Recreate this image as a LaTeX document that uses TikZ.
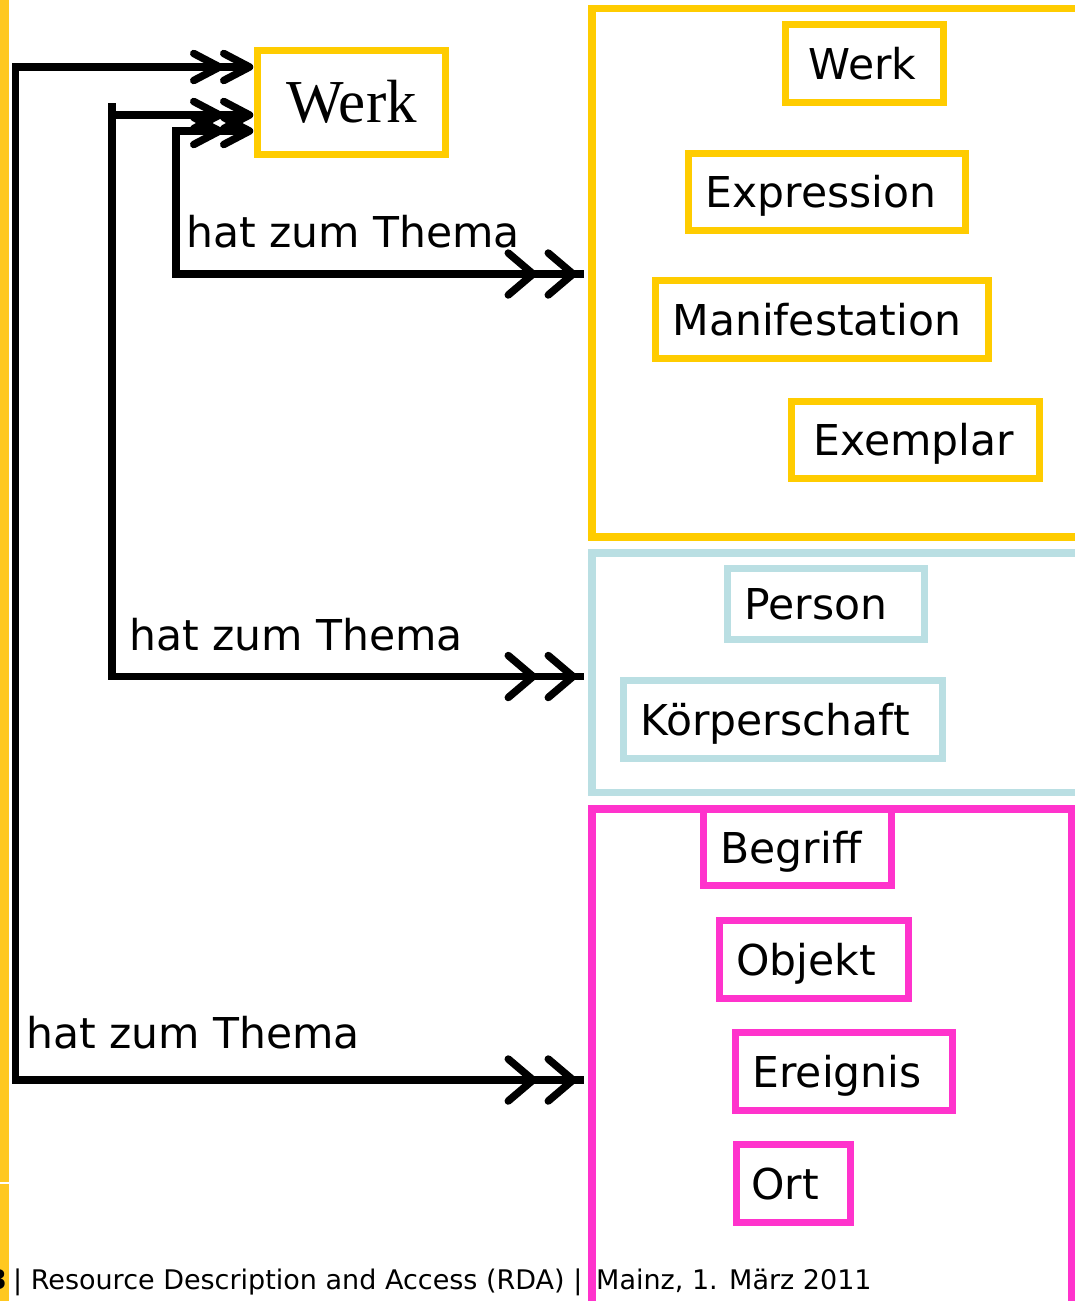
\documentclass[tikz,border=0pt]{standalone}
\usepackage{fontspec}
\setmainfont{DejaVu Sans}
\newfontfamily\werkserif{Liberation Serif}
\usetikzlibrary{arrows.meta}
\definecolor{ygold}{HTML}{FFCC00}
\definecolor{barcolor}{HTML}{FFC820}
\definecolor{lblue}{HTML}{BADFE3}
\definecolor{magen}{HTML}{FF33CC}
\pgfdeclarearrow{
  name = Chev,
  parameters = {\the\pgfarrowlength,\the\pgfarrowwidth},
  setup code = {
    \pgfarrowssettipend{0pt}
    \pgfarrowssetlineend{-4pt}
    \pgfarrowssetbackend{-\pgfarrowlength}
    \pgfarrowssavethe\pgfarrowlength
    \pgfarrowssavethe\pgfarrowwidth
  },
  drawing code = {
    \pgfsetlinewidth{7.5pt}
    \pgfsetroundcap
    \pgfsetroundjoin
    \pgfsetdash{}{0pt}
    \pgfpathmoveto{\pgfqpoint{-\pgfarrowlength}{.5\pgfarrowwidth}}
    \pgfpathlineto{\pgfqpoint{-3.75pt}{0pt}}
    \pgfpathlineto{\pgfqpoint{-\pgfarrowlength}{-.5\pgfarrowwidth}}
    \pgfusepathqstroke
  },
  defaults = {length = 28.5pt, width = 42pt}
}
\tikzset{
  sbarb/.tip={Chev[length=29.5pt,width=27pt,sep=0.5pt] Chev[length=29.5pt,width=27pt,sep=0.5pt]},
  bbarb/.tip={Chev[length=28.5pt,width=42pt,sep=11.5pt] Chev[length=28.5pt,width=42pt,sep=11.5pt]},
}
\begin{document}
\begin{tikzpicture}[x=1pt,y=-1pt,
  conn/.style={line width=7.5pt, draw=black},
  bigbox/.style={draw=#1, line width=7.5pt, anchor=north west, inner sep=0pt},
  ibox/.style={draw=#1, line width=7.5pt, anchor=north west, fill=white,
    font=\fontsize{42.5}{50}\selectfont, text height=31pt, text depth=0pt,
    align=left, inner ysep=0pt},
  dims/.style n args={4}{minimum width=#1pt, minimum height=#2pt, inner xsep=#3pt, text width=#4pt},
  lbl/.style={anchor=base west, inner sep=0pt, font=\fontsize{42.5}{50}\selectfont},
  foot/.style={inner sep=0pt, font=\fontsize{27}{31}\selectfont},
]
\useasboundingbox (0,0) rectangle (1075,1301);
\fill[fill=white] (0,0) rectangle (1075,1301);
% left bar
\fill[fill=barcolor] (0,0) rectangle (9,1301);
\draw[draw=white, line width=1.2pt] (0,1183) -- (9,1183);

% big group boxes (anchor points are the outer corners of the frame)
\node[bigbox=ygold, minimum width=510pt, minimum height=528.5pt] (yel) at (588.25,4.75) {};
\node[bigbox=lblue, minimum width=510pt, minimum height=239.5pt] (blu) at (588.25,549.25) {};
\node[bigbox=magen, minimum width=479.5pt, minimum height=520pt] (mag) at (588.25,805.25) {};

% inner boxes
\node[ibox=ygold, dims={158}{78}{23}{112}] (w2) at (781.75,20.75) {Werk};
\node[ibox=ygold, dims={277}{77}{17}{243}] (expr) at (684.75,149.75) {Expression};
\node[ibox=ygold, dims={333}{78}{17}{299}] (mani) at (651.75,276.75) {Manifestation};
\node[ibox=ygold, dims={248}{77}{22}{204}] (exem) at (787.75,397.75) {Exemplar};
\node[ibox=lblue, dims={197}{71}{17}{163}] (pers) at (723.75,564.75) {Person};
\node[ibox=lblue, dims={319}{78}{17}{285}] (koer) at (619.75,676.75) {Körperschaft};
\node[ibox=magen, dims={188}{76}{17}{154}] (begr) at (699.75,805.75) {Begriff};
\node[ibox=magen, dims={189}{78}{17}{155}] (obj) at (715.75,916.75) {Objekt};
\node[ibox=magen, dims={217}{78}{17}{183}] (ereig) at (731.75,1028.75) {Ereignis};
\node[ibox=magen, dims={114}{78}{15}{84}] (ort) at (732.75,1140.75) {Ort};

% Werk (serif)
\node[draw=ygold, line width=7.5pt, anchor=north west, minimum width=188pt, minimum height=104pt,
      inner sep=0pt, font=\werkserif\fontsize{61}{70}\selectfont, text height=40.4pt, text depth=0pt]
      (werk) at (253.75,46.75) {Werk};

% corner coordinates
\coordinate (a1) at (15.5,67);
\coordinate (a2) at (15.5,1080);
\coordinate (b0) at (112,103);
\coordinate (b1) at (112,115);
\coordinate (b2) at (112,676.5);
\coordinate (c1) at (176,131);
\coordinate (c2) at (176,274);

% connectors
\draw[conn, sbarb-bbarb] (werk.west |- a1) -- (a1) -- (a2) -- (mag.west |- a2);
\draw[conn, sbarb-bbarb] (werk.west |- b1) -- (b1) -- (b2) -- (blu.west |- b2);
\draw[conn] (b0) -- (b1);
\draw[conn, sbarb-bbarb] (werk.west |- c1) -- (c1) -- (c2) -- (yel.west |- c2);
% shafts through the double heads
\draw[conn, shorten >=4pt] (a1) -- (werk.west |- a1);
\draw[conn, shorten >=4pt] (b1) -- (werk.west |- b1);
\draw[conn, shorten >=4pt] (c1) -- (werk.west |- c1);
\draw[conn, shorten >=4pt] (a2) -- (mag.west |- a2);
\draw[conn, shorten >=4pt] (b2) -- (blu.west |- b2);
\draw[conn, shorten >=4pt] (c2) -- (yel.west |- c2);

% labels
\node[lbl] (l3) at (186,247) {hat zum Thema};
\node[lbl] (l2) at (129,650) {hat zum Thema};
\node[lbl] (l1) at (26,1048) {hat zum Thema};

% footer
\node[foot, anchor=base east] (pg) at (7,1289) {\textbf{3}};
\node[foot, anchor=base west] (ft) at (13,1289) {| Resource Description and Access (RDA) |};
\node[foot, anchor=base west] (ft2) at (596,1289) {Mainz, 1. März 2011};
\end{tikzpicture}
\end{document}
